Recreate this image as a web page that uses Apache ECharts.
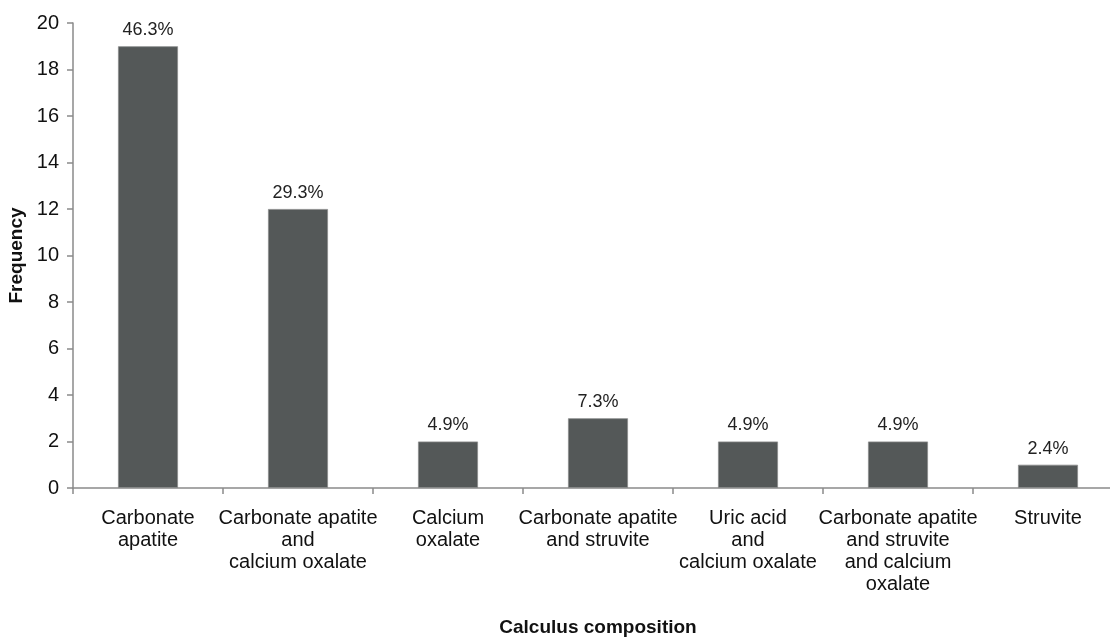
<!DOCTYPE html>
<html>
<head>
<meta charset="utf-8">
<script src="https://cdn.jsdelivr.net/npm/echarts@6/dist/echarts.min.js"></script>
<style>html,body{margin:0;padding:0;background:#fff}#c{width:1110px;height:638px}</style>
</head>
<body>
<div id="c"></div>
<script>
const categories = [
  "Carbonate\napatite",
  "Carbonate apatite\nand\ncalcium oxalate",
  "Calcium\noxalate",
  "Carbonate apatite\nand struvite",
  "Uric acid\nand\ncalcium oxalate",
  "Carbonate apatite\nand struvite\nand calcium\noxalate",
  "Struvite"
];
const frequency = [19, 12, 2, 3, 2, 2, 1];
const percentLabels = ["46.3%", "29.3%", "4.9%", "7.3%", "4.9%", "4.9%", "2.4%"];
const yTicks = {min: 0, max: 20, interval: 2};

const chart = echarts.init(document.getElementById('c'), null, {renderer: 'canvas'});
const font = 'Liberation Sans, Arial, sans-serif';
chart.setOption({
  animation: false,
  grid: {left: 73, top: 23, width: 1050, height: 465, containLabel: false, outerBoundsMode: 'none'},
  xAxis: {
    type: 'category',
    data: categories,
    name: 'Calculus composition',
    nameLocation: 'middle',
    nameGap: 130,
    nameTextStyle: {fontFamily: font, fontSize: 19, fontWeight: 'bold', color: '#111'},
    axisLine: {lineStyle: {color: '#8a8a8a', width: 1.5}},
    axisTick: {show: true, length: 6, lineStyle: {color: '#8a8a8a', width: 1.5}},
    axisLabel: {fontFamily: font, fontSize: 20, color: '#111', lineHeight: 22, margin: 19, interval: 0}
  },
  yAxis: {
    type: 'value',
    min: yTicks.min, max: yTicks.max, interval: yTicks.interval,
    name: 'Frequency',
    nameLocation: 'middle',
    nameGap: 45,
    nameTextStyle: {fontFamily: font, fontSize: 19, fontWeight: 'bold', color: '#111'},
    axisLine: {show: true, lineStyle: {color: '#8a8a8a', width: 1.5}},
    axisTick: {show: true, length: 6, lineStyle: {color: '#8a8a8a', width: 1.5}},
    axisLabel: {fontFamily: font, fontSize: 20, color: '#111', margin: 14},
    splitLine: {show: false}
  },
  series: [{
    type: 'bar',
    data: frequency,
    barWidth: 60,
    itemStyle: {color: '#545858', borderColor: '#8a8c8c', borderWidth: 0.8},
    label: {
      show: true, position: 'top', distance: 7,
      fontFamily: font, fontSize: 18, color: '#222',
      formatter: p => percentLabels[p.dataIndex]
    }
  }]
});
</script>
</body>
</html>
